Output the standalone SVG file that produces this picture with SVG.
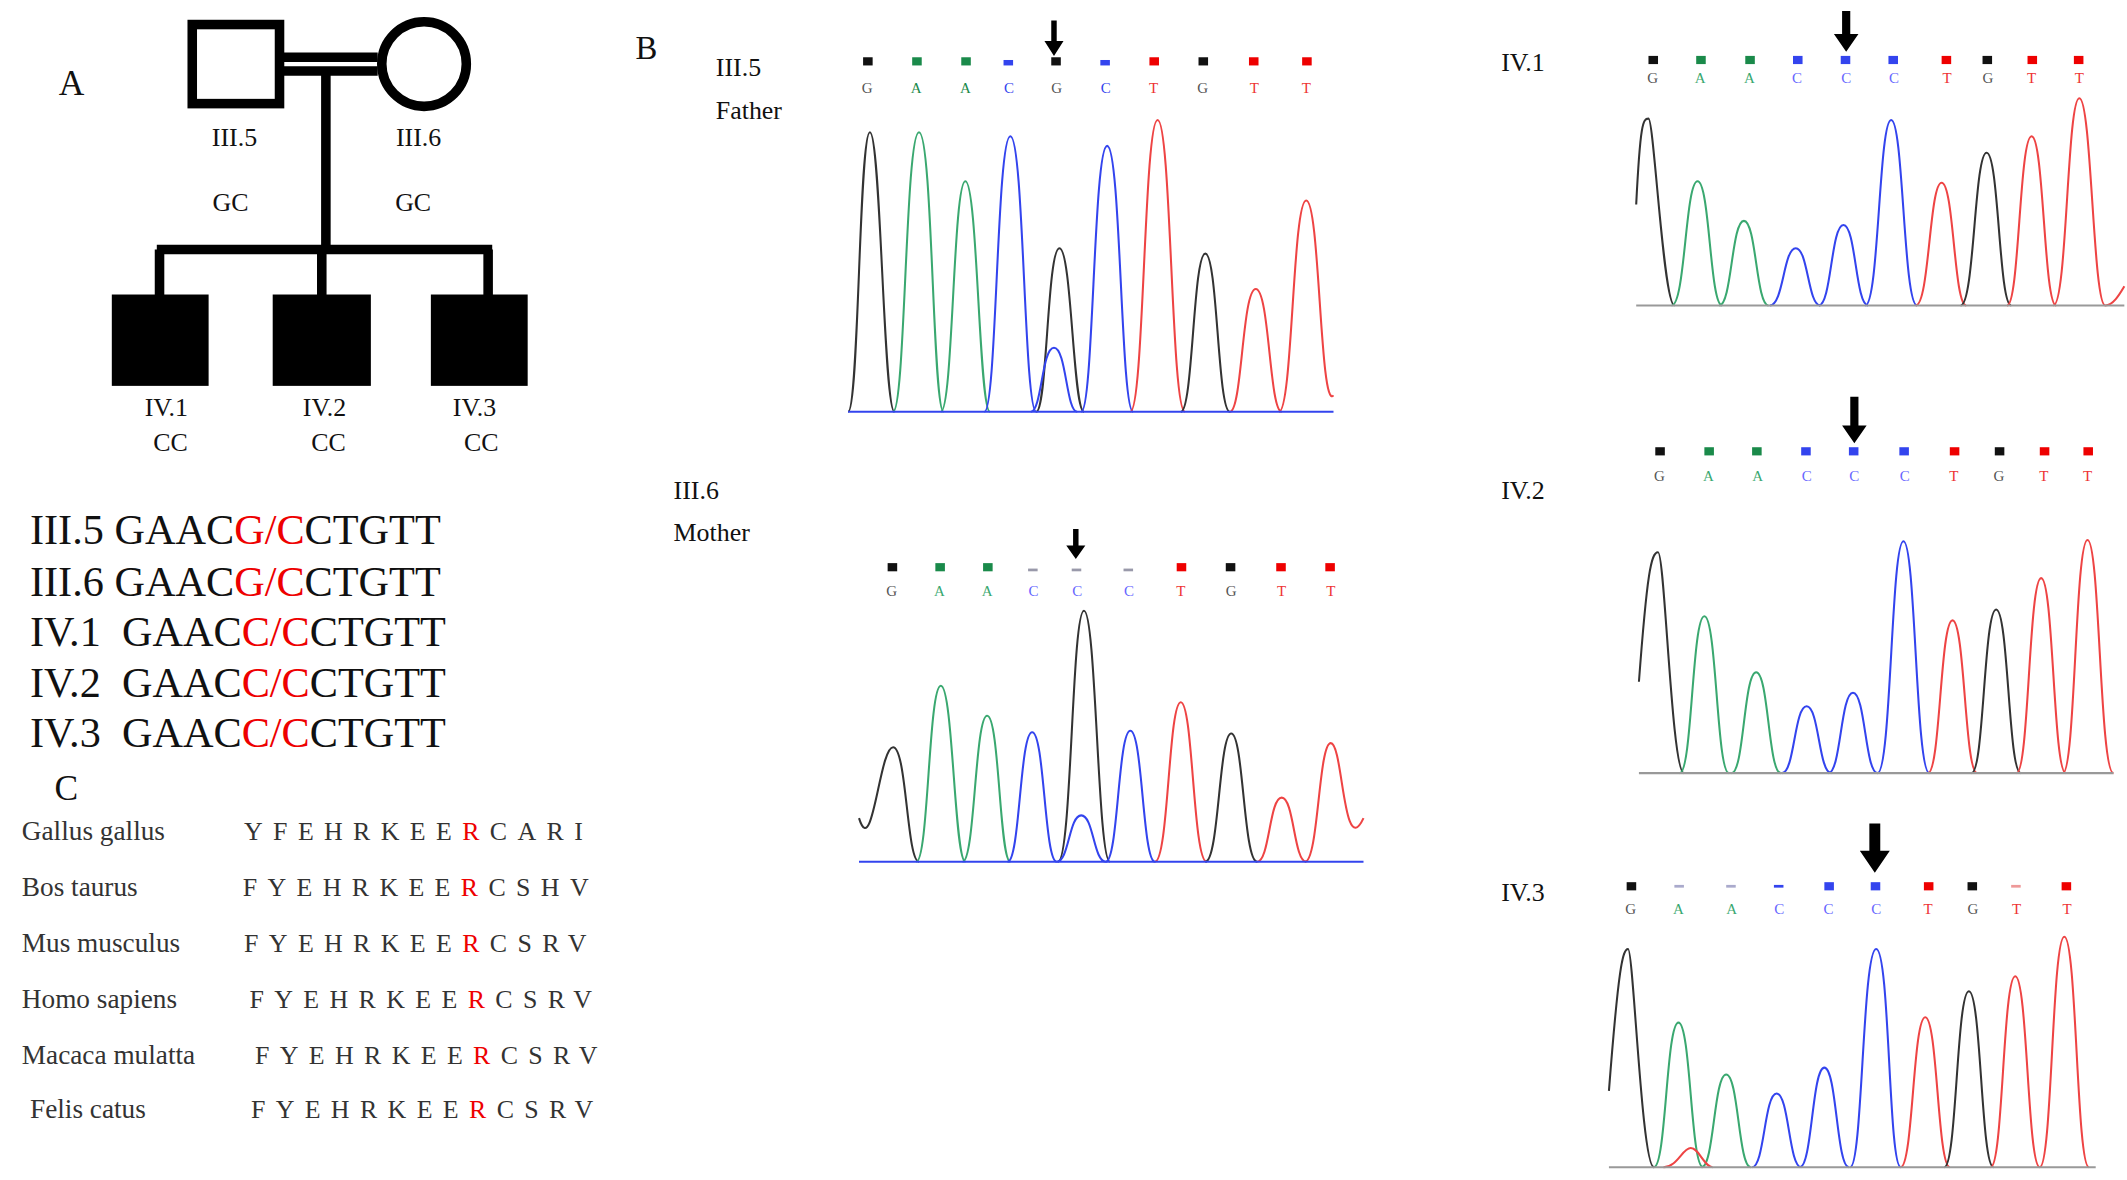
<svg xmlns="http://www.w3.org/2000/svg" width="2127" height="1180" viewBox="0 0 2127 1180">
<style>
.t{font-family:"Liberation Serif",serif;fill:#111}
.s{font-family:"Liberation Serif",serif;fill:#333;font-size:20px}
.aa{font-family:"Liberation Serif",serif;fill:#333;font-size:19px;letter-spacing:7.6px}
.r{fill:#e00}
.b{font-family:"Liberation Serif",serif;font-size:11px;text-anchor:middle}
.k{stroke:#333}.g{stroke:#3aa870}.u{stroke:#3344ee}.d{stroke:#ee4444}
.p path{fill:none;stroke-width:1.5}
.ln{stroke:#000;stroke-width:7;fill:none}
</style>
<defs>
<path id="arr" d="M-2,0H2V-14H6L0,0Z"/>
</defs>
<g transform="scale(1.3635)">
<text class="t" x="43" y="70" font-size="26">A</text>
<g id="connectors">
<path class="ln" d="M207,42H277M207,52H277" stroke-width="4"/>
<path class="ln" d="M239,52V183M115,183H361M117,183V217M236,183V217M358,183V217"/>
</g>
<g id="III5"><rect x="141" y="18" width="64" height="58" fill="#fff" stroke="#000" stroke-width="7"/><text class="t" x="172" y="107" font-size="19" text-anchor="middle">III.5</text><text class="t" x="169" y="155" font-size="19" text-anchor="middle">GC</text></g>
<g id="III6"><circle cx="311" cy="47" r="31" fill="#fff" stroke="#000" stroke-width="7"/><text class="t" x="307" y="107" font-size="19" text-anchor="middle">III.6</text><text class="t" x="303" y="155" font-size="19" text-anchor="middle">GC</text></g>
<g id="IV1"><rect x="82" y="216" width="71" height="67"/><text class="t" x="122" y="305" font-size="19" text-anchor="middle">IV.1</text><text class="t" x="125" y="331" font-size="19" text-anchor="middle">CC</text></g>
<g id="IV2"><rect x="200" y="216" width="72" height="67"/><text class="t" x="238" y="305" font-size="19" text-anchor="middle">IV.2</text><text class="t" x="241" y="331" font-size="19" text-anchor="middle">CC</text></g>
<g id="IV3"><rect x="316" y="216" width="71" height="67"/><text class="t" x="348" y="305" font-size="19" text-anchor="middle">IV.3</text><text class="t" x="353" y="331" font-size="19" text-anchor="middle">CC</text></g>

<g font-size="31">
<text class="t" x="22" y="399">III.5 GAAC<tspan class="r">G/C</tspan>CTGTT</text>
<text class="t" x="22" y="437">III.6 GAAC<tspan class="r">G/C</tspan>CTGTT</text>
<text class="t" x="22" y="474" xml:space="preserve">IV.1  GAAC<tspan class="r">C/C</tspan>CTGTT</text>
<text class="t" x="22" y="511" xml:space="preserve">IV.2  GAAC<tspan class="r">C/C</tspan>CTGTT</text>
<text class="t" x="22" y="548" xml:space="preserve">IV.3  GAAC<tspan class="r">C/C</tspan>CTGTT</text>
</g>
<text class="t" x="40" y="587" font-size="26">C</text>
<text class="s" x="16" y="616">Gallus gallus</text><text class="aa" x="179" y="616">YFEHRKEE<tspan class="r">R</tspan>CARI</text>
<text class="s" x="16" y="657">Bos taurus</text><text class="aa" x="178" y="657">FYEHRKEE<tspan class="r">R</tspan>CSHV</text>
<text class="s" x="16" y="698">Mus musculus</text><text class="aa" x="179" y="698">FYEHRKEE<tspan class="r">R</tspan>CSRV</text>
<text class="s" x="16" y="739">Homo sapiens</text><text class="aa" x="183" y="739">FYEHRKEE<tspan class="r">R</tspan>CSRV</text>
<text class="s" x="16" y="780">Macaca mulatta</text><text class="aa" x="187" y="780">FYEHRKEE<tspan class="r">R</tspan>CSRV</text>
<text class="s" x="22" y="820">Felis catus</text><text class="aa" x="184" y="820">FYEHRKEE<tspan class="r">R</tspan>CSRV</text>

<text class="t" x="466" y="43" font-size="24">B</text>

<!-- Father -->
<g id="father">
<text class="t" x="525" y="56" font-size="19">III.5</text><text class="t" x="525" y="87" font-size="19">Father</text>
<path d="M771,15H775V30H780L773,41L766,30H771Z"/>
<g class="b"><rect x="633" y="42" width="7" height="6" fill="#111"/><text x="636" y="68" fill="#555">G</text>
<rect x="669" y="42" width="7" height="6" fill="#1a8a4a"/><text x="672" y="68" fill="#1a8a4a">A</text>
<rect x="705" y="42" width="7" height="6" fill="#1a8a4a"/><text x="708" y="68" fill="#1a8a4a">A</text>
<rect x="736" y="44" width="7" height="4" fill="#3344ee"/><text x="740" y="68" fill="#3344ee">C</text>
<rect x="771" y="42" width="7" height="6" fill="#111"/><text x="775" y="68" fill="#555">G</text>
<rect x="807" y="44" width="7" height="4" fill="#3344ee"/><text x="811" y="68" fill="#3344ee">C</text>
<rect x="843" y="42" width="7" height="6" fill="#e00"/><text x="846" y="68" fill="#e33">T</text>
<rect x="879" y="42" width="7" height="6" fill="#111"/><text x="882" y="68" fill="#555">G</text>
<rect x="916" y="42" width="7" height="6" fill="#e00"/><text x="920" y="68" fill="#e33">T</text>
<rect x="955" y="42" width="7" height="6" fill="#e00"/><text x="958" y="68" fill="#e33">T</text></g>
<g class="p">
<path class="k" d="M622,302C630,302 630,97 638,97S648,302 656,302"/>
<path class="g" d="M655,302C664,302 664,97 674,97S684,302 692,302"/>
<path class="g" d="M690,302C699,302 699,133 708,133S718,302 726,302"/>
<path class="u" d="M722,302C731,302 731,100 741,100S751,302 760,302"/>
<path class="k" d="M760,302C768,302 768,182 777,182S787,302 795,302"/>
<path class="u" d="M756,302C764,302 764,255 773,255S782,302 790,302"/>
<path class="u" d="M793,302C802,302 802,107 812,107S822,302 831,302"/>
<path class="d" d="M829,302C839,302 839,88 849,88S859,302 869,302"/>
<path class="k" d="M866,302C875,302 875,186 884,186S893,302 902,302"/>
<path class="d" d="M902,302C911,302 911,212 921,212S931,302 940,302"/>
<path class="d" d="M938,302C948,302 948,147 958,147S968,302 978,290"/>
<path d="M622,302H978" stroke="#3344ee" stroke-width="2"/>
</g></g>

<!-- Mother -->
<g id="mother">
<text class="t" x="494" y="366" font-size="19">III.6</text><text class="t" x="494" y="397" font-size="19">Mother</text>
<path d="M787,388H791V400H796L789,410L782,400H787Z"/>
<g class="b"><rect x="651" y="413" width="7" height="6" fill="#111"/><text x="654" y="437" fill="#555">G</text>
<rect x="686" y="413" width="7" height="6" fill="#1a8a4a"/><text x="689" y="437" fill="#3aa870">A</text>
<rect x="721" y="413" width="7" height="6" fill="#1a8a4a"/><text x="724" y="437" fill="#3aa870">A</text>
<rect x="754" y="417" width="7" height="2" fill="#99a"/><text x="758" y="437" fill="#66f">C</text>
<rect x="786" y="417" width="7" height="2" fill="#99a"/><text x="790" y="437" fill="#66f">C</text>
<rect x="824" y="417" width="7" height="2" fill="#99a"/><text x="828" y="437" fill="#66f">C</text>
<rect x="863" y="413" width="7" height="6" fill="#e00"/><text x="866" y="437" fill="#e33">T</text>
<rect x="899" y="413" width="7" height="6" fill="#111"/><text x="903" y="437" fill="#555">G</text>
<rect x="936" y="413" width="7" height="6" fill="#e00"/><text x="940" y="437" fill="#e33">T</text>
<rect x="972" y="413" width="7" height="6" fill="#e00"/><text x="976" y="437" fill="#e33">T</text></g>
<g class="p">
<path class="k" d="M630,600C640,632 645,548 655,548S665,632 674,632"/>
<path class="g" d="M672,632C681,632 681,503 690,503S700,632 708,632"/>
<path class="g" d="M706,632C715,632 715,525 724,525S733,632 741,632"/>
<path class="u" d="M739,632C748,632 748,537 757,537S766,632 775,632"/>
<path class="k" d="M776,632C786,632 786,448 795,448S805,632 814,632"/>
<path class="u" d="M775,632C784,632 784,598 793,598S802,632 811,632"/>
<path class="u" d="M811,632C820,632 820,536 829,536S838,632 847,632"/>
<path class="d" d="M847,632C857,632 857,515 866,515S875,632 885,632"/>
<path class="k" d="M884,632C894,632 894,538 903,538S912,632 922,632"/>
<path class="d" d="M922,632C931,632 931,585 940,585S949,632 958,632"/>
<path class="d" d="M957,632C967,632 967,545 976,545S985,632 1000,600"/>
<path d="M630,632H1000" stroke="#3344ee" stroke-width="2"/>
</g></g>

<!-- IV.1 -->
<g id="chrom_IV1">
<text class="t" x="1101" y="52" font-size="19">IV.1</text>
<path d="M1351,8H1357V25H1363L1354,38L1345,25H1351Z"/>
<g class="b"><rect x="1209" y="41" width="7" height="6" fill="#111"/><text x="1212" y="61" fill="#555">G</text>
<rect x="1244" y="41" width="7" height="6" fill="#1a8a4a"/><text x="1247" y="61" fill="#3aa870">A</text>
<rect x="1280" y="41" width="7" height="6" fill="#1a8a4a"/><text x="1283" y="61" fill="#3aa870">A</text>
<rect x="1315" y="41" width="7" height="6" fill="#3344ee"/><text x="1318" y="61" fill="#66f">C</text>
<rect x="1350" y="41" width="7" height="6" fill="#3344ee"/><text x="1354" y="61" fill="#66f">C</text>
<rect x="1385" y="41" width="7" height="6" fill="#3344ee"/><text x="1389" y="61" fill="#66f">C</text>
<rect x="1424" y="41" width="7" height="6" fill="#e00"/><text x="1428" y="61" fill="#e33">T</text>
<rect x="1454" y="41" width="7" height="6" fill="#111"/><text x="1458" y="61" fill="#555">G</text>
<rect x="1487" y="41" width="7" height="6" fill="#e00"/><text x="1490" y="61" fill="#e33">T</text>
<rect x="1521" y="41" width="7" height="6" fill="#e00"/><text x="1525" y="61" fill="#e33">T</text></g>
<g class="p">
<path class="k" d="M1200,150C1203,90 1205,87 1209,87S1220,224 1228,224"/>
<path class="g" d="M1226,224C1236,224 1236,133 1245,133S1254,224 1263,224"/>
<path class="g" d="M1261,224C1270,224 1270,162 1279,162S1288,224 1297,224"/>
<path class="u" d="M1298,224C1308,224 1308,182 1317,182S1326,224 1335,224"/>
<path class="u" d="M1334,224C1343,224 1343,165 1352,165S1361,224 1370,224"/>
<path class="u" d="M1368,224C1378,224 1378,88 1387,88S1396,224 1406,224"/>
<path class="d" d="M1405,224C1415,224 1415,134 1424,134S1433,224 1442,224"/>
<path class="k" d="M1438,224C1448,224 1448,112 1457,112S1466,224 1475,224"/>
<path class="d" d="M1472,224C1481,224 1481,100 1490,100S1499,224 1508,224"/>
<path class="d" d="M1506,224C1516,224 1516,72 1525,72S1535,224 1544,224C1550,224 1555,215 1558,210"/>
<path d="M1200,224H1558" stroke="#999" stroke-width="2.5"/>
</g></g>

<!-- IV.2 -->
<g id="chrom_IV2">
<text class="t" x="1101" y="366" font-size="19">IV.2</text>
<path d="M1357,291H1363V312H1369L1360,325L1351,312H1357Z"/>
<g class="b"><rect x="1214" y="328" width="7" height="6" fill="#111"/><text x="1217" y="353" fill="#555">G</text>
<rect x="1250" y="328" width="7" height="6" fill="#1a8a4a"/><text x="1253" y="353" fill="#3aa870">A</text>
<rect x="1285" y="328" width="7" height="6" fill="#1a8a4a"/><text x="1289" y="353" fill="#3aa870">A</text>
<rect x="1321" y="328" width="7" height="6" fill="#3344ee"/><text x="1325" y="353" fill="#66f">C</text>
<rect x="1356" y="328" width="7" height="6" fill="#3344ee"/><text x="1360" y="353" fill="#66f">C</text>
<rect x="1393" y="328" width="7" height="6" fill="#3344ee"/><text x="1397" y="353" fill="#66f">C</text>
<rect x="1430" y="328" width="7" height="6" fill="#e00"/><text x="1433" y="353" fill="#e33">T</text>
<rect x="1463" y="328" width="7" height="6" fill="#111"/><text x="1466" y="353" fill="#555">G</text>
<rect x="1496" y="328" width="7" height="6" fill="#e00"/><text x="1499" y="353" fill="#e33">T</text>
<rect x="1528" y="328" width="7" height="6" fill="#e00"/><text x="1531" y="353" fill="#e33">T</text></g>
<g class="p">
<path class="k" d="M1202,500C1208,420 1211,405 1216,405S1226,567 1235,567"/>
<path class="g" d="M1232,567C1241,567 1241,452 1250,452S1259,567 1268,567"/>
<path class="g" d="M1270,567C1279,567 1279,493 1288,493S1297,567 1306,567"/>
<path class="u" d="M1307,567C1316,567 1316,518 1325,518S1334,567 1343,567"/>
<path class="u" d="M1341,567C1350,567 1350,508 1359,508S1368,567 1377,567"/>
<path class="u" d="M1377,567C1387,567 1387,397 1396,397S1405,567 1415,567"/>
<path class="d" d="M1414,567C1423,567 1423,455 1432,455S1441,567 1450,567"/>
<path class="k" d="M1446,567C1455,567 1455,447 1464,447S1473,567 1482,567"/>
<path class="d" d="M1479,567C1488,567 1488,424 1497,424S1506,567 1515,567"/>
<path class="d" d="M1513,567C1522,567 1522,396 1531,396S1540,567 1550,567"/>
<path d="M1202,567H1550" stroke="#999" stroke-width="2.5"/>
</g></g>

<!-- IV.3 -->
<g id="chrom_IV3">
<text class="t" x="1101" y="661" font-size="19">IV.3</text>
<path d="M1371,604H1379V624H1386L1375,640L1364,624H1371Z"/>
<g class="b"><rect x="1193" y="647" width="7" height="6" fill="#111"/><text x="1196" y="670" fill="#555">G</text>
<rect x="1228" y="649" width="7" height="2" fill="#aac"/><text x="1231" y="670" fill="#3aa870">A</text>
<rect x="1266" y="649" width="7" height="2" fill="#aac"/><text x="1270" y="670" fill="#3aa870">A</text>
<rect x="1301" y="649" width="7" height="2" fill="#3344ee"/><text x="1305" y="670" fill="#66f">C</text>
<rect x="1338" y="647" width="7" height="6" fill="#3344ee"/><text x="1341" y="670" fill="#66f">C</text>
<rect x="1372" y="647" width="7" height="6" fill="#3344ee"/><text x="1376" y="670" fill="#66f">C</text>
<rect x="1411" y="647" width="7" height="6" fill="#e00"/><text x="1414" y="670" fill="#e33">T</text>
<rect x="1443" y="647" width="7" height="6" fill="#111"/><text x="1447" y="670" fill="#555">G</text>
<rect x="1475" y="649" width="7" height="2" fill="#e99"/><text x="1479" y="670" fill="#e33">T</text>
<rect x="1512" y="647" width="7" height="6" fill="#e00"/><text x="1516" y="670" fill="#e33">T</text></g>
<g class="p">
<path class="k" d="M1180,800C1187,710 1190,696 1194,696S1204,856 1213,856"/>
<path class="g" d="M1213,856C1222,856 1222,750 1231,750S1240,856 1249,856"/>
<path class="g" d="M1248,856C1257,856 1257,788 1266,788S1275,856 1284,856"/>
<path class="u" d="M1285,856C1294,856 1294,802 1303,802S1312,856 1321,856"/>
<path class="u" d="M1320,856C1329,856 1329,783 1338,783S1347,856 1356,856"/>
<path class="u" d="M1357,856C1366,856 1366,696 1376,696S1385,856 1394,856"/>
<path class="d" d="M1394,856C1403,856 1403,746 1412,746S1421,856 1430,856"/>
<path class="k" d="M1426,856C1435,856 1435,727 1444,727S1453,856 1462,856"/>
<path class="d" d="M1460,856C1469,856 1469,716 1478,716S1487,856 1496,856"/>
<path class="d" d="M1496,856C1505,856 1505,687 1514,687S1523,856 1532,856"/>
<path class="d" d="M1220,856C1230,856 1234,842 1240,842S1250,856 1256,856"/>
<path d="M1180,856H1537" stroke="#999" stroke-width="2.5"/>
</g></g>
</g>
</svg>
